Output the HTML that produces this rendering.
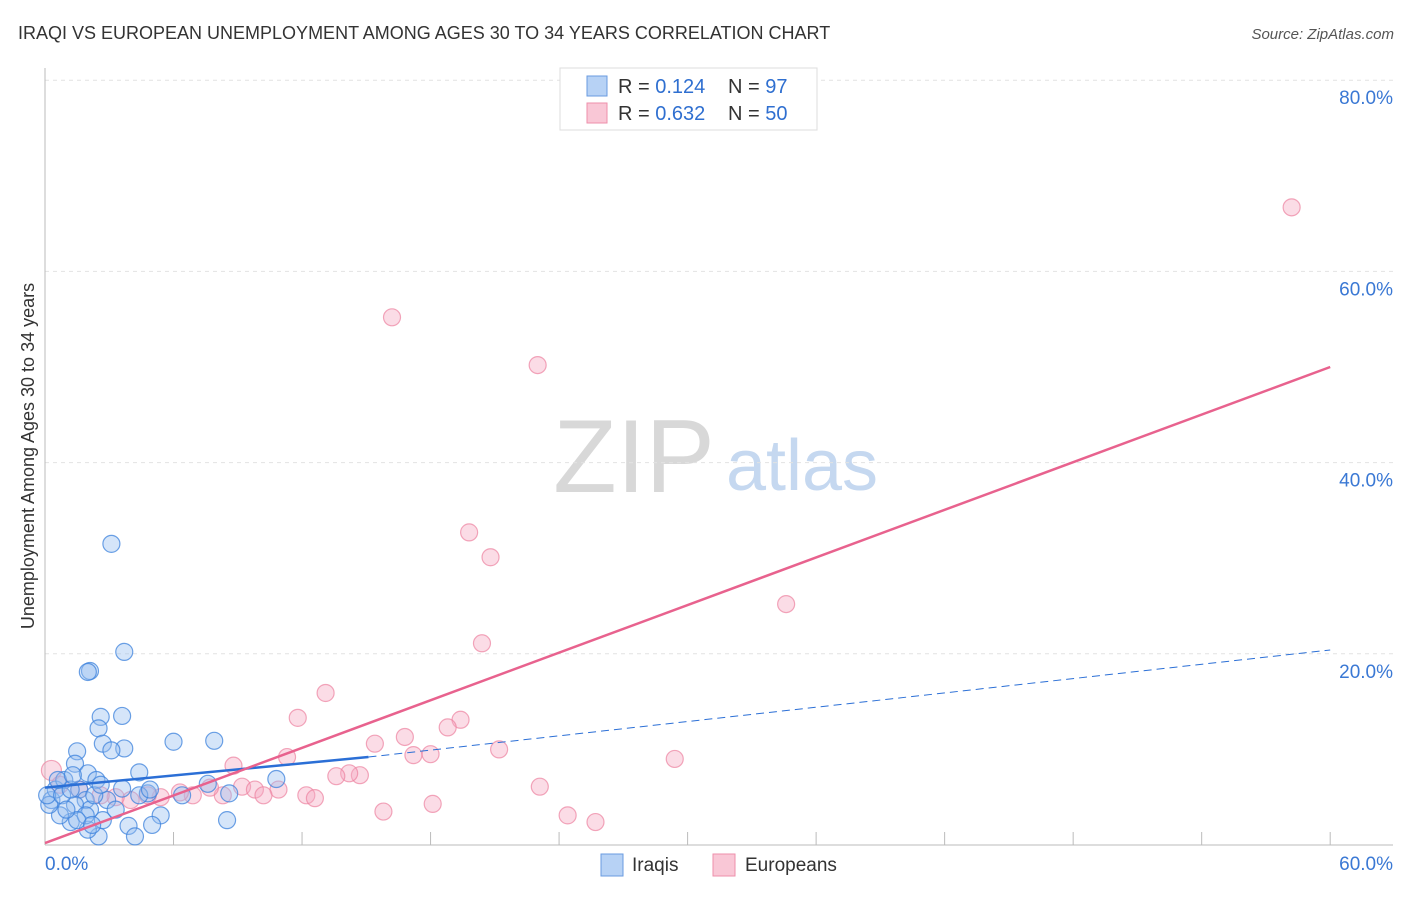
<!DOCTYPE html>
<html><head><meta charset="utf-8"><style>
body{margin:0;background:#fff;font-family:"Liberation Sans",sans-serif;}
svg text{font-family:"Liberation Sans",sans-serif;}
</style></head><body>
<svg id="chart" width="1406" height="892">
<text x="18" y="39" font-size="18" fill="#333">IRAQI VS EUROPEAN UNEMPLOYMENT AMONG AGES 30 TO 34 YEARS CORRELATION CHART</text>
<text x="1394" y="39" font-size="15" fill="#555" font-style="italic" text-anchor="end">Source: ZipAtlas.com</text>
<text x="34" y="456" font-size="18" fill="#333" text-anchor="middle" transform="rotate(-90 34 456)">Unemployment Among Ages 30 to 34 years</text>
<g><text x="634" y="492" font-size="104" fill="#d8d8d8" font-family="Liberation Serif,serif" text-anchor="middle">ZIP</text><text x="802" y="490" font-size="72" fill="#c5d8f0" text-anchor="middle">atlas</text></g>
<g id="grid"></g><g id="axes"></g><g id="pts"></g><g id="lines"></g>
<g>
<rect x="560" y="68" width="257" height="62" fill="#fff" stroke="#ddd"/>
<rect x="587" y="76" width="20" height="20" fill="#b7d2f5" stroke="#6a9be0"/>
<rect x="587" y="103" width="20" height="20" fill="#f9c7d6" stroke="#ee8fab"/>
<text x="618" y="93" font-size="20" fill="#333">R = <tspan fill="#2f6fd0">0.124</tspan><tspan x="728">N = </tspan><tspan fill="#2f6fd0">97</tspan></text>
<text x="618" y="120" font-size="20" fill="#333">R = <tspan fill="#2f6fd0">0.632</tspan><tspan x="728">N = </tspan><tspan fill="#2f6fd0">50</tspan></text>
</g>
<g>
<rect x="601" y="854" width="22" height="22" fill="#b7d2f5" stroke="#6a9be0"/>
<text x="632" y="871" font-size="19" fill="#333">Iraqis</text>
<rect x="713" y="854" width="22" height="22" fill="#f9c7d6" stroke="#ee8fab"/>
<text x="745" y="871" font-size="19" fill="#333">Europeans</text>
</g>
</svg>
<script>
const yTicks=[20,40,60,80];
const xTickLabels=["0.0%","60.0%"];
const blueX=[3.1,3.7,2.1,2.0,2.6,3.6,2.5,2.7,3.7,3.1,1.5,6.0,7.9,4.4,1.4,2.0,2.4,10.8,7.6,3.6,4.8,6.4,8.6,5.4,5.0,3.9,8.5,4.2,2.5,2.0,2.7,1.2,0.7,0.3,0.5,0.9,1.6,1.9,2.1,1.4,0.2,0.1,0.8,1.2,2.9,3.3,2.3,2.6,0.6,1.3,4.4,4.9,1.9,1.5,1.0,2.2];
const blueY=[31.5,20.2,18.2,18.1,13.4,13.5,12.2,10.6,10.1,9.9,9.8,10.8,10.9,7.6,8.5,7.5,6.8,6.9,6.4,5.9,5.4,5.2,5.4,3.1,2.1,2.0,2.6,0.9,0.9,1.6,2.6,2.4,3.1,4.7,5.8,6.8,5.8,4.7,3.7,4.2,4.2,5.2,5.2,5.8,4.7,3.7,5.2,6.3,6.8,7.3,5.2,5.8,3.1,2.6,3.7,2.1];
const pinkX=[58.2,16.2,23.0,19.8,20.8,34.6,20.4,13.1,11.8,19.4,18.8,16.8,15.4,21.2,17.2,18.0,29.4,11.3,8.8,14.7,14.2,13.6,23.1,10.9,9.2,9.8,10.2,12.2,12.6,8.3,6.9,6.3,5.4,4.0,3.3,2.6,18.1,15.8,24.4,25.7,0.3,0.7,1.6,7.7,4.8];
const pinkY=[66.7,55.2,50.2,32.7,30.1,25.2,21.1,15.9,13.3,13.1,12.3,11.3,10.6,10.0,9.4,9.5,9.0,9.2,8.3,7.3,7.5,7.2,6.1,5.8,6.1,5.8,5.2,5.2,4.9,5.2,5.2,5.5,5.0,4.7,5.0,5.2,4.3,3.5,3.1,2.4,7.8,6.3,5.8,6.0,5.2];
const blueFit=[6.0,9.2,20.4], blueFitX=[0,15.1,60];
const pinkFit=[0.2,50], pinkFitX=[0,60];
const X=v=>45+v*21.42, Y=v=>845-v*9.56;
const NS="http://www.w3.org/2000/svg";
function mk(p,t,a){const e=document.createElementNS(NS,t);for(const k in a)e.setAttribute(k,a[k]);p.appendChild(e);return e;}
const grid=document.getElementById('grid'),axes=document.getElementById('axes'),pts=document.getElementById('pts'),lines=document.getElementById('lines');
yTicks.forEach(t=>{
 const l=mk(grid,'line',{x1:45,x2:1393,y1:Y(t),y2:Y(t),stroke:'#e2e2e2','stroke-dasharray':'4,4'});
 
 
 const tx=mk(grid,'text',{x:1393,y:Y(t)+24,'font-size':19,fill:'#3a78d4','text-anchor':'end'});
 tx.textContent=t.toFixed(1)+'%';
 
 
});
mk(axes,'line',{x1:45,x2:45,y1:68,y2:845,stroke:'#bbb'});
mk(axes,'line',{x1:45,x2:1393,y1:845,y2:845,stroke:'#bbb'});
for(let i=1;i<=10;i++){const x=X(i*6);mk(axes,'line',{x1:x,x2:x,y1:832,y2:845,stroke:'#bbb'});}
[[0,'start',45],[60,'end',1393]].forEach((d,i)=>{const t=mk(axes,'text',{x:d[2],y:870,'font-size':19,fill:'#3a78d4','text-anchor':d[1]});t.textContent=xTickLabels[i];
 
 });
pinkX.forEach((x,i)=>{const c=mk(pts,'circle',{cx:X(x),cy:Y(pinkY[i]),r:i==40?10:8.5,fill:'rgba(246,168,192,0.4)',stroke:'rgba(236,130,160,0.7)','stroke-width':1.2});
 
 });
blueX.forEach((x,i)=>{const c=mk(pts,'circle',{cx:X(x),cy:Y(blueY[i]),r:8.5,fill:'rgba(150,190,240,0.4)',stroke:'rgba(60,130,220,0.75)','stroke-width':1.2});
 
 });
let l1=mk(lines,'line',{x1:X(blueFitX[0]),y1:Y(blueFit[0]),x2:X(blueFitX[1]),y2:Y(blueFit[1]),stroke:'#2b6fd6','stroke-width':2.5});


let l2=mk(lines,'line',{x1:X(blueFitX[1]),y1:Y(blueFit[1]),x2:X(blueFitX[2]),y2:Y(blueFit[2]),stroke:'#2b6fd6','stroke-width':1,'stroke-dasharray':'8,5'});


let l3=mk(lines,'line',{x1:X(pinkFitX[0]),y1:Y(pinkFit[0]),x2:X(pinkFitX[1]),y2:Y(pinkFit[1]),stroke:'#e8628e','stroke-width':2.5});


</script>
</body></html>
